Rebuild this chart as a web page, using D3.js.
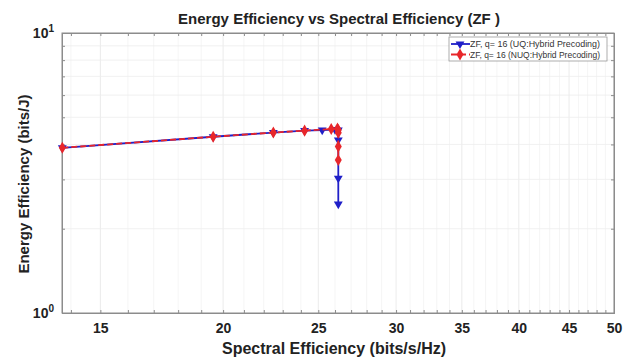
<!DOCTYPE html>
<html lang="en">
<head>
<meta charset="UTF-8">
<title>Energy Efficiency vs Spectral Efficiency</title>
<script src="https://cdn.jsdelivr.net/npm/d3@7"></script>
<style>
  body { margin: 0; background: #fff; }
  text { font-family: "Liberation Sans", Arial, sans-serif; }
</style>
</head>
<body>
<svg width="632" height="358"></svg>
<script>
// data
const seUQ  = [13.72, 19.54, 22.50, 24.21, 25.23, 26.0, 26.2, 26.2, 26.2, 26.2];
const eeUQ  = [3.89, 4.26, 4.41, 4.48, 4.50, 4.52, 4.50, 4.15, 3.03, 2.45];
const seNUQ = [13.72, 19.54, 22.50, 24.21, 25.77, 26.15, 26.2, 26.2, 26.2, 26.2];
const eeNUQ = [3.89, 4.26, 4.41, 4.48, 4.54, 4.56, 4.50, 4.40, 3.93, 3.52];
const xTickVals = [15, 20, 25, 30, 35, 40, 45, 50];
const legendLabels = ["ZF, q= 16 (UQ:Hybrid Precoding)", "ZF, q= 16 (NUQ:Hybrid Precoding)"];

const svg = d3.select("svg");
const margin = { top: 33, right: 18, bottom: 45, left: 62 };
const W = 632, H = 358;
const width = W - margin.left - margin.right;
const height = H - margin.top - margin.bottom;

const g = svg.append("g").attr("transform", `translate(${margin.left},${margin.top})`);

const x = d3.scaleLog().domain([13.71, 50]).range([0, width]);
const y = d3.scaleLog().domain([1, 10]).range([height, 0]);

// grid
const xMinor = d3.range(14, 51);
const yMinor = d3.range(2, 10);
g.append("g").selectAll("line").data(xMinor).join("line")
  .attr("x1", d => x(d)).attr("x2", d => x(d))
  .attr("y1", 0).attr("y2", height)
  .attr("stroke", d => xTickVals.includes(d) ? "#e6e6e6" : "#f2f2f2")
  .attr("stroke-width", 0.8);
g.append("g").selectAll("line").data(yMinor).join("line")
  .attr("x1", 0).attr("x2", width)
  .attr("y1", d => y(d)).attr("y2", d => y(d))
  .attr("stroke", "#eeeeee").attr("stroke-width", 0.8);

// axes
const axisColor = "#8c8c8c";
const xAxis = g.append("g").attr("transform", `translate(0,${height})`)
  .call(d3.axisBottom(x).tickValues(xTickVals).tickFormat(d3.format("d")).tickSize(0).tickPadding(10));
g.append("g")
  .call(d3.axisTop(x).tickValues(xMinor).tickFormat("").tickSize(-3));
g.append("g").attr("transform", `translate(0,${height})`)
  .call(d3.axisBottom(x).tickValues(xMinor).tickFormat("").tickSize(-3));
g.append("g")
  .call(d3.axisLeft(y).tickValues([1, 10]).tickFormat("").tickSize(0));
g.append("g")
  .call(d3.axisLeft(y).tickValues(yMinor).tickFormat("").tickSize(-3));
g.append("g").attr("transform", `translate(${width},0)`)
  .call(d3.axisRight(y).tickValues(yMinor).tickFormat("").tickSize(-3));

g.selectAll(".domain").attr("stroke", axisColor);
g.selectAll(".tick line").attr("stroke", axisColor);
xAxis.selectAll("text").attr("font-size", 14).attr("font-weight", "bold").attr("fill", "#222");

// y labels 10^0, 10^1
[1, 10].forEach((v, i) => {
  const t = g.append("text").attr("x", -8).attr("y", y(v) + 5)
    .attr("text-anchor", "end").attr("font-size", 14).attr("font-weight", "bold").attr("fill", "#222");
  t.append("tspan").text("10");
  t.append("tspan").attr("dy", -6).attr("font-size", 10).text(i);
});

// box
g.append("rect").attr("width", width).attr("height", height)
  .attr("fill", "none").attr("stroke", axisColor).attr("stroke-width", 1);

// lines
const toPts = (xs, ys) => xs.map((d, i) => [d, ys[i]]);
const uq = toPts(seUQ, eeUQ);
const nuq = toPts(seNUQ, eeNUQ);
const line = d3.line().x(d => x(d[0])).y(d => y(d[1]));

const blue = "#1f1fc8", red = "#e8262a";
g.append("path").datum(uq).attr("d", line)
  .attr("fill", "none").attr("stroke", blue).attr("stroke-width", 1.8);
const tri = d3.symbol().type(d3.symbolTriangle).size(34);
g.selectAll(".uq").data(uq).join("path").attr("class", "uq")
  .attr("d", tri)
  .attr("transform", d => `translate(${x(d[0])},${y(d[1])}) rotate(180)`)
  .attr("fill", blue);

g.append("path").datum(nuq).attr("d", line)
  .attr("fill", "none").attr("stroke", red).attr("stroke-width", 1.8)
  .attr("stroke-dasharray", "6,3");
const dia = d3.symbol().type(d3.symbolDiamond).size(42);
g.selectAll(".nuq").data(nuq).join("path").attr("class", "nuq")
  .attr("d", dia)
  .attr("transform", d => `translate(${x(d[0])},${y(d[1])})`)
  .attr("fill", red);

// legend
const lg = svg.append("g").attr("transform", "translate(449,37)");
lg.append("rect").attr("width", 158).attr("height", 24)
  .attr("fill", "#fff").attr("stroke", "#999").attr("stroke-width", 0.8);
legendLabels.forEach((lab, i) => {
  const yy = 7 + i * 10.5;
  const c = i === 0 ? blue : red;
  lg.append("line").attr("x1", 2).attr("x2", 21).attr("y1", yy).attr("y2", yy)
    .attr("stroke", c).attr("stroke-width", 1.8)
    .attr("stroke-dasharray", i === 0 ? null : "6,3");
  lg.append("path").attr("d", i === 0 ? tri : dia)
    .attr("transform", `translate(11,${yy})` + (i === 0 ? " rotate(180)" : ""))
    .attr("fill", c);
  lg.append("text").attr("x", 21).attr("y", yy + 3.3)
    .attr("font-size", 9.3).attr("fill", "#333").attr("textLength", 130)
    .attr("lengthAdjust", "spacingAndGlyphs").text(lab);
});

// titles
svg.append("text").attr("x", 339).attr("y", 24)
  .attr("text-anchor", "middle").attr("font-size", 15).attr("font-weight", "bold")
  .attr("fill", "#222").text("Energy Efficiency vs Spectral Efficiency (ZF )");
svg.append("text").attr("x", 334).attr("y", 354)
  .attr("text-anchor", "middle").attr("font-size", 16).attr("font-weight", "bold")
  .attr("fill", "#222").text("Spectral Efficiency (bits/s/Hz)");
svg.append("text").attr("transform", `translate(29,${184}) rotate(-90)`)
  .attr("text-anchor", "middle").attr("font-size", 15).attr("font-weight", "bold")
  .attr("fill", "#222").text("Energy Efficiency (bits/J)");
</script>
</body>
</html>
